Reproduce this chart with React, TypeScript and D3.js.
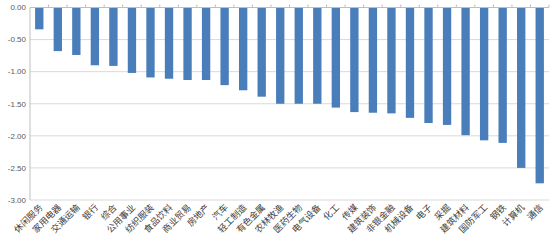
import React from "react";
import * as d3 from "d3";

const categories = ["休闲服务","家用电器","交通运输","银行","综合","公用事业","纺织服装","食品饮料","商业贸易","房地产","汽车","轻工制造","有色金属","农林牧渔","医药生物","电气设备","化工","传媒","建筑装饰","非银金融","机械设备","电子","采掘","建筑材料","国防军工","钢铁","计算机","通信"];
const values = [-0.34,-0.68,-0.74,-0.90,-0.91,-1.02,-1.09,-1.11,-1.13,-1.13,-1.21,-1.29,-1.39,-1.50,-1.50,-1.50,-1.56,-1.63,-1.64,-1.65,-1.72,-1.80,-1.83,-1.99,-2.07,-2.11,-2.50,-2.74];
const yTicks = [0,-0.5,-1,-1.5,-2,-2.5,-3];

export default function App() {
  const W = 556, H = 243;
  const left = 30, right = 549, top = 7.5, bottom = 200;
  const x = d3.scaleBand<string>().domain(categories).range([left, right]).paddingInner(0.55).paddingOuter(0.275);
  const y = d3.scaleLinear().domain([0, -3]).range([top, bottom]);
  const step = x.step();
  return (
    <svg width={W} height={H} style={{position:"absolute",left:0,top:0,background:"#fff"}} fontFamily="'Noto Sans CJK SC', 'DejaVu Sans', sans-serif">
      {yTicks.map(t => (
        <g key={t}>
          <line x1={left} x2={right} y1={y(t)} y2={y(t)} stroke="#d9d9d9" strokeWidth={1}/>
          <text x={left-4} y={y(t)} dy="0.35em" textAnchor="end" fontSize={8} fill="#595959" fontFamily="Liberation Sans, Arial, sans-serif">{t.toFixed(2)}</text>
        </g>
      ))}
      <line x1={left} x2={left} y1={top} y2={bottom} stroke="#bfbfbf"/>
      {values.map((v,i) => (
        <rect key={categories[i]} x={x(categories[i])} width={x.bandwidth()} y={y(0)} height={y(v)-y(0)} fill="#4a7ebb"/>
      ))}
      <line x1={left} x2={right} y1={y(0)} y2={y(0)} stroke="#bfbfbf"/>
      {categories.map((c,i) => (
        <line key={"tk"+c} x1={left+step*(i+1)} x2={left+step*(i+1)} y1={y(0)} y2={y(0)-3} stroke="#bfbfbf"/>
      ))}
      {categories.map(c => {
        const cx = (x(c) as number) + x.bandwidth()/2 + 4;
        const cy = 208;
        return (
          <text key={"l"+c} x={cx} y={cy} textAnchor="end" fontSize={9} fill="#404040" transform={`rotate(-45 ${cx} ${cy})`}>{c}</text>
        );
      })}
    </svg>
  );
}
